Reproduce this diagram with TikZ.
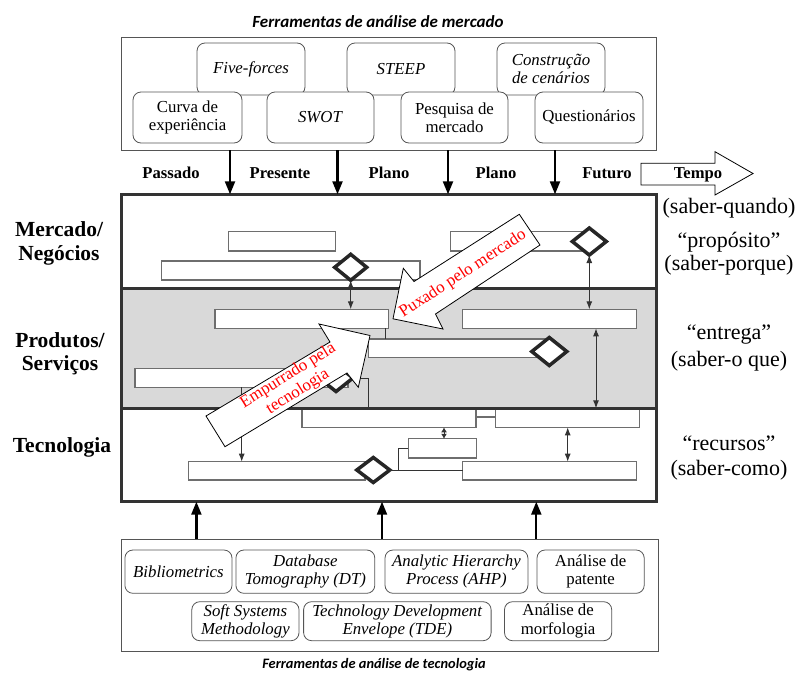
\documentclass[tikz,border=0pt]{standalone}
\usepackage{fontspec}
\setmainfont{Liberation Serif}
\newfontfamily\hdfont{Carlito}
\usetikzlibrary{shapes.geometric,arrows.meta}
\definecolor{bandgray}{HTML}{D9D9D9}
\definecolor{framec}{HTML}{333333}
\definecolor{barc}{HTML}{6E6E6E}
\definecolor{toolc}{HTML}{555555}
\newcommand\mkTool[6]{\node[tool, minimum width={(#4-#2)*1pt}, minimum height={(#5-#3)*1pt}] (#1) at ({(#2+#4)/2},{(#3+#5)/2}) {#6};}
\newcommand\mkBar[5]{\node[bar, minimum width={(#4-#2)*1pt}, minimum height={(#5-#3)*1pt}] (#1) at ({(#2+#4)/2},{(#3+#5)/2}) {};}
\newcommand\mkDia[5]{\node[dia, minimum width=#4pt, minimum height=#5pt] (#1) at (#2,#3) {};}
\begin{document}
\begin{tikzpicture}[x=1pt,y=-1pt,
  tool/.style={draw=toolc, rounded corners=8pt, line width=0.8pt, fill=white, inner sep=0pt, outer sep=0pt, align=center, font=\fontsize{16.8}{18.5}\selectfont},
  frame/.style={draw=toolc, line width=1pt, inner sep=0pt, outer sep=0pt},
  mainframe/.style={draw=framec, line width=2.5pt, inner sep=0pt, outer sep=0pt},
  bar/.style={draw=barc, line width=1.2pt, fill=white, inner sep=0pt, outer sep=0pt},
  dia/.style={diamond, draw=black!85, line width=3.5pt, fill=white, inner sep=0pt, outer sep=0pt},
  link/.style={draw=black!80, line width=1pt},
  dbl/.style={link, {Latex[length=8pt,width=6pt]}-{Latex[length=8pt,width=6pt]}},
  sgl/.style={link, -{Latex[length=8pt,width=6pt]}},
  tiny/.style={link, {Latex[length=5pt,width=6pt]}-{Latex[length=5pt,width=6pt]}},
  bigarrow/.style={line width=2.2pt, -{Triangle[length=13pt,width=10pt]}},
  block/.style={draw=black, line width=0.8pt, fill=white},
  rlab/.style={font=\fontsize{22}{24}\selectfont, align=center},
  llab/.style={font=\bfseries\fontsize{21.5}{23.3}\selectfont, align=center},
  tlab/.style={font=\bfseries\fontsize{16.6}{18}\selectfont},
  hdrA/.style={font=\hdfont\bfseries\itshape\fontsize{17}{19}\selectfont},
  hdrB/.style={font=\hdfont\bfseries\itshape\fontsize{14.4}{17}\selectfont},
  redtxt/.style={text=red, font=\fontsize{17}{18.5}\selectfont, align=center}
]
\useasboundingbox (0,0) rectangle (799,675);

% ---------- top: market tools ----------
\node[hdrA] (hdrtop) at (378,22) {Ferramentas de análise de mercado};
\node[frame, minimum width=535pt, minimum height=112.7pt] (topbox) at (389.2,93.65) {};
\mkTool{five}{197}{43}{305}{95}{\textit{Five-forces}}
\mkTool{steep}{347}{43}{455}{95}{\textit{STEEP}}
\mkTool{cena}{497}{43}{605}{95}{\textit{Construção}\\\textit{de cenários}}
\mkTool{curva}{133}{92}{242}{143}{Curva de\\experiência}
\mkTool{swot}{267}{92}{374}{143}{\textit{SWOT}}
\mkTool{pesq}{401}{92}{508}{143}{Pesquisa de\\mercado}
\mkTool{quest}{535}{92}{643}{143}{Questionários}

% time labels
\node[tlab] (tpas) at (171,173) {Passado};
\node[tlab] (tpre) at (280,173) {Presente};
\node[tlab] (tpl1) at (389,173) {Plano};
\node[tlab] (tpl2) at (496,173) {Plano};
\node[tlab] (tfut) at (607,173) {Futuro};
\draw[block] (641,163.3) -- (715,163.3) -- (715,151.7) -- (753,173.5) -- (715,195) -- (715,185) -- (641,185) -- cycle;
\node[tlab] (tempo) at (698,174.5) {Tempo};

% ---------- main layered box ----------
\fill[bandgray] (121.7,288.3) rectangle (656.7,408.3);
\node[mainframe, minimum width=535pt, minimum height=307.4pt] (mainbox) at (389.2,348) {};
\coordinate (b1w) at (121.7,288.3);
\coordinate (b1e) at (656.7,288.3);
\coordinate (b2w) at (121.7,408.3);
\coordinate (b2e) at (656.7,408.3);

% down arrows
\coordinate (dx1) at (230,0);
\coordinate (dx2) at (337.5,0);
\coordinate (dx3) at (448,0);
\coordinate (dx4) at (555,0);
\foreach \c in {dx1,dx2,dx3,dx4}
  \draw[bigarrow] (\c |- topbox.south) -- (\c |- mainbox.north);

% bars
\mkBar{A}{228.3}{231.7}{335.7}{251}
\mkBar{B}{450.7}{231.7}{583}{251}
\mkBar{C}{161.7}{261}{420}{280}
\mkBar{D}{215}{309.3}{388.7}{328.3}
\mkBar{E}{462.3}{309.3}{636.7}{328.3}
\mkBar{F}{368.3}{339}{545}{357.3}
\mkBar{G}{135}{368.3}{348}{387.3}
\mkBar{H}{302}{408.3}{476}{427.3}
\mkBar{I}{495.7}{408.3}{639.3}{427.3}
\mkBar{HI}{476}{409.5}{495.7}{417}
\mkBar{J}{408.3}{438.8}{476.3}{458}
\mkBar{K}{188.3}{461.7}{365}{480}
\mkBar{L}{462.7}{461.7}{636.7}{480}

% layer boundaries
\draw[framec, line width=2.5pt] (b1w) -- (b1e);
\draw[framec, line width=2.5pt] (b2w) -- (b2e);

% connectors
\coordinate (cx1) at (385,0);
\coordinate (cx2) at (596,0);
\coordinate (cx3) at (241.7,0);
\coordinate (cx4) at (368.3,0);
\coordinate (cx5) at (444,0);
\coordinate (cx6) at (567.7,0);
\coordinate (cx7) at (398.3,0);
\draw[link] (cx1 |- D.south) -- (cx1 |- F.north);
\draw[dbl] (cx2 |- E.south) -- (cx2 |- I.north);
\draw[sgl] (cx3 |- G.south) -- (cx3 |- K.north);
\draw[tiny] (cx5 |- H.south) -- (cx5 |- J.north);
\draw[dbl] (cx6 |- I.south) -- (cx6 |- L.north);

% diamonds
\mkDia{d1}{350.7}{267.3}{32}{26}
\mkDia{d2}{589.3}{241.5}{34}{27}
\mkDia{d3}{549.3}{351.5}{35}{28}
\mkDia{d4}{336}{378}{34}{27}
\mkDia{dK}{373.3}{470}{33}{25}

\draw[dbl] (d1.south) -- (d1.south |- D.north);
\draw[dbl] (d2.south) -- (d2.south |- E.north);
\draw[link] (d4.east) -- (cx4 |- d4.east) -- (cx4 |- H.north);
\draw[link] (J.west) -| (cx7 |- dK.east);
\draw[link] (dK.east) -- (L.west |- dK.east);

% block arrows
\draw[block] (519.3,214.3) -- (540,245) -- (435.5,314) -- (443,329) -- (393,318.8) -- (403.3,268.3) -- (414,281.5) -- cycle;
\node[redtxt, rotate=33] (pux) at (463,274) {Puxado pelo mercado};
\draw[block] (206,416) -- (225,446.7) -- (347,373) -- (358.3,387.3) -- (370,335.5) -- (319,324) -- (330,342) -- cycle;
\node[redtxt, rotate=32] (emp) at (293,384) {Empurrado pela\\tecnologia};

% left labels
\node[llab] (lmer) at (59,243.5) {Mercado/\\Negócios};
\node[llab] (lpro) at (60,354) {Produtos/\\Serviços};
\node[llab] (ltec) at (62,447) {Tecnologia};

% right labels
\node[rlab] (rq) at (729,208) {(saber-quando)};
\node[rlab] (rp1) at (729,242) {“propósito”};
\node[rlab] (rp2) at (729,265) {(saber-porque)};
\node[rlab] (re1) at (729,335) {“entrega”};
\node[rlab] (re2) at (729,361.7) {(saber-o que)};
\node[rlab] (rr1) at (729,443) {“recursos”};
\node[rlab] (rr2) at (729,470) {(saber-como)};

% ---------- bottom: technology tools ----------
\node[frame, minimum width=536.3pt, minimum height=111.7pt] (botbox) at (389.85,595.15) {};
\mkTool{bib}{124.9}{550}{232}{593.3}{\textit{Bibliometrics}}
\mkTool{dt}{235.9}{550}{374.8}{593.3}{\textit{Database}\\\textit{Tomography (DT)}}
\mkTool{ahp}{385}{550}{527.9}{593.3}{\textit{Analytic Hierarchy}\\\textit{Process (AHP)}}
\mkTool{pat}{537}{550}{644.2}{593.3}{Análise de\\patente}
\mkTool{soft}{191.8}{601.7}{299}{640.7}{\textit{Soft Systems}\\\textit{Methodology}}
\mkTool{tde}{303.6}{601.7}{491.1}{640.7}{\textit{Technology Development}\\\textit{Envelope (TDE)}}
\mkTool{morf}{504.5}{601.7}{611.7}{640.7}{Análise de\\morfologia}

\coordinate (ux1) at (196.4,0);
\coordinate (ux2) at (382,0);
\coordinate (ux3) at (536.3,0);
\foreach \c in {ux1,ux2,ux3}
  \draw[bigarrow] (\c |- botbox.north) -- (\c |- mainbox.south);

\node[hdrB] (hdrbot) at (374,665) {Ferramentas de análise de tecnologia};
\end{tikzpicture}
\end{document}
